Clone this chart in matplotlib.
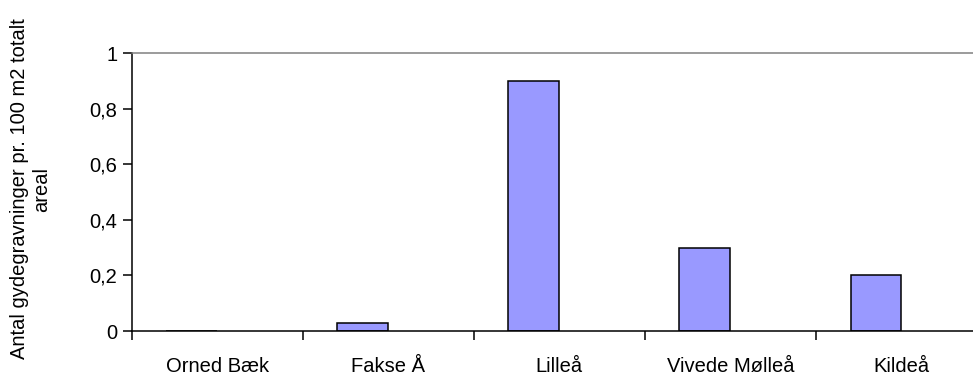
import matplotlib.pyplot as plt
import numpy as np

plt.rcParams['font.family'] = ['Liberation Sans', 'DejaVu Sans']

# Antal gydegravninger pr. 100 m2 totalt areal, per vandløb
categories = ['Orned Bæk', 'Fakse Å', 'Lilleå', 'Vivede Mølleå', 'Kildeå']
values = [0.0, 0.03, 0.90, 0.30, 0.20]
yticks = [0, 0.2, 0.4, 0.6, 0.8, 1]
ytick_labels = ['0', '0,2', '0,4', '0,6', '0,8', '1']

fs = 14.5

fig = plt.figure(figsize=(9.73, 3.79), dpi=100)
# axes runs a little past the right edge, like the original export
ax = fig.add_axes([0.1354, 0.1266, 0.879, 0.7328])

x = np.arange(len(categories)) + 0.5
w = 0.298
ax.bar(x - w / 2, values, width=w, color='#9999ff', edgecolor='black', linewidth=1.1)

ax.set_xlim(0, len(categories))
ax.set_ylim(0, 1)

# boundary ticks without labels, names centred under each group
ax.set_xticks(np.arange(len(categories) + 1))
ax.set_xticklabels([])
ax.set_xticks(x, minor=True)
ax.set_xticklabels(categories, minor=True, fontsize=fs)
ax.tick_params(axis='x', which='major', direction='out', length=6.5, width=1.1)
ax.tick_params(axis='x', which='minor', length=0, pad=19)

ax.set_yticks(yticks)
ax.set_yticklabels(ytick_labels, fontsize=fs)
ax.tick_params(axis='y', direction='out', length=6.5, width=1.1, pad=4)

ax.spines['left'].set_linewidth(1.1)
ax.spines['bottom'].set_linewidth(1.1)
ax.spines['top'].set_color('#808080')
ax.spines['top'].set_linewidth(1.1)
ax.spines['right'].set_visible(False)

fig.text(31 / 973, 1 - 189 / 379, 'Antal gydegravninger pr. 100 m2 totalt\nareal',
         rotation=90, ha='center', va='center', multialignment='center', fontsize=fs)

fig.savefig('out.png', dpi=100)
